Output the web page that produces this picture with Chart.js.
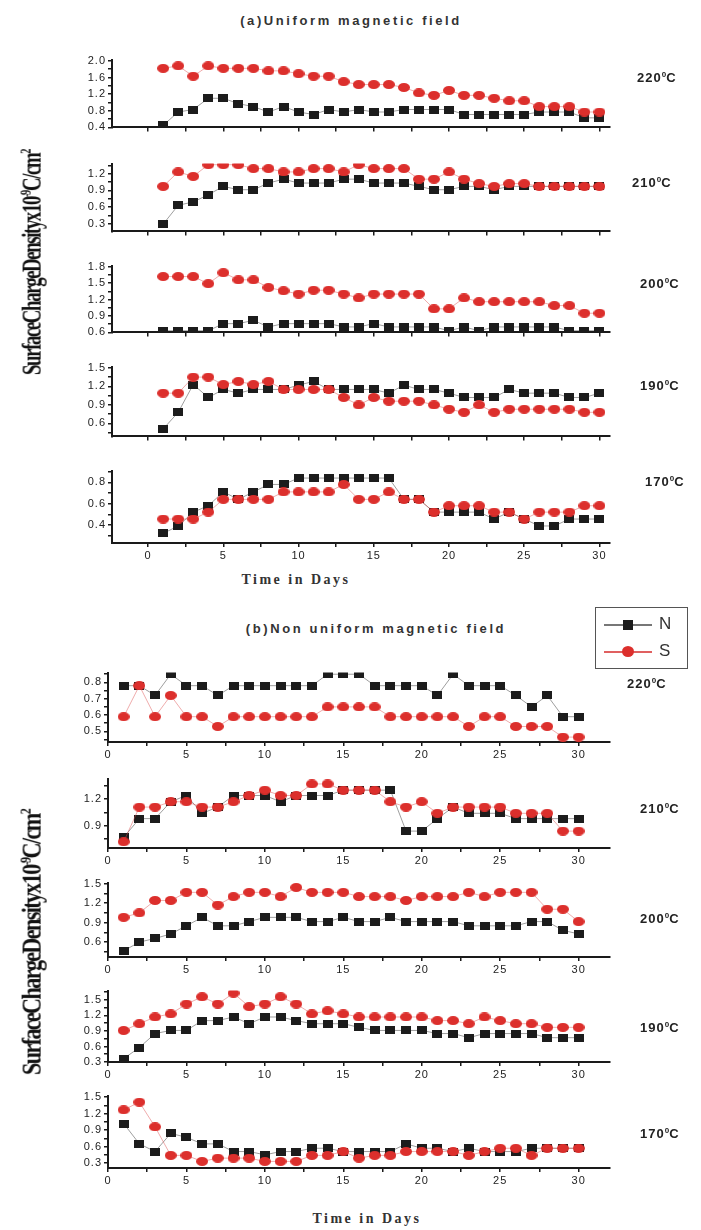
<!DOCTYPE html>
<html><head><meta charset="utf-8">
<script src="https://cdn.jsdelivr.net/npm/chart.js@4/dist/chart.umd.min.js"></script>
<style>
html,body{margin:0;padding:0;background:#fff;}
body{width:701px;height:1230px;position:relative;overflow:hidden;font-family:"Liberation Sans",Arial,sans-serif;color:#222;}
canvas.p{position:absolute;left:0;}
.t{position:absolute;white-space:nowrap;}
.title{font-weight:bold;font-size:13px;letter-spacing:2.6px;color:#333;transform:translate(-50%,-50%);}
.temp{font-weight:bold;font-size:13px;letter-spacing:1px;color:#222;transform:translateY(-50%);}
.temp sup{font-size:8px;vertical-align:5px;letter-spacing:0;}
.xt{font-family:"Liberation Serif",serif;font-weight:bold;font-size:14px;letter-spacing:2.5px;color:#333;transform:translate(-50%,-50%);}
.yt{font-family:"Liberation Serif",serif;font-weight:bold;font-size:27px;color:#111;letter-spacing:-2px;word-spacing:-5px;}
.yt sup{font-size:15px;}
#legend{position:absolute;left:595px;top:607px;width:91px;height:60px;border:1.5px solid #555;}
#legend .row{position:absolute;left:8px;height:14px;}
</style></head>
<body>
<script>
const days = [1,2,3,4,5,6,7,8,9,10,11,12,13,14,15,16,17,18,19,20,21,22,23,24,25,26,27,28,29,30];

// (a) Uniform magnetic field
const a220N = [0.45,0.77,0.83,1.10,1.10,0.97,0.90,0.77,0.90,0.77,0.71,0.83,0.77,0.83,0.77,0.77,0.83,0.83,0.83,0.83,0.71,0.71,0.71,0.71,0.71,0.77,0.77,0.77,0.63,0.63];
const a220S = [1.82,1.88,1.63,1.88,1.82,1.82,1.82,1.76,1.76,1.69,1.63,1.63,1.50,1.43,1.43,1.43,1.36,1.23,1.17,1.29,1.17,1.17,1.10,1.04,1.04,0.90,0.90,0.90,0.77,0.77];
const a210N = [0.29,0.63,0.69,0.82,0.97,0.91,0.91,1.03,1.10,1.03,1.03,1.03,1.10,1.10,1.03,1.03,1.03,0.97,0.91,0.91,0.97,0.97,0.91,0.97,0.97,0.97,0.97,0.97,0.97,0.97];
const a210S = [0.97,1.23,1.15,1.36,1.36,1.36,1.29,1.29,1.23,1.23,1.29,1.29,1.23,1.36,1.29,1.29,1.29,1.10,1.10,1.23,1.10,1.02,0.97,1.02,1.02,0.97,0.97,0.97,0.97,0.97];
const a200N = [0.63,0.63,0.63,0.63,0.76,0.76,0.82,0.70,0.76,0.76,0.76,0.76,0.70,0.70,0.76,0.70,0.70,0.70,0.70,0.63,0.70,0.63,0.70,0.70,0.70,0.70,0.70,0.63,0.63,0.63];
const a200S = [1.62,1.62,1.62,1.49,1.69,1.56,1.56,1.42,1.36,1.30,1.37,1.37,1.30,1.23,1.30,1.30,1.30,1.30,1.03,1.03,1.23,1.16,1.16,1.16,1.16,1.16,1.09,1.09,0.95,0.95];
const a190N = [0.51,0.78,1.23,1.02,1.15,1.09,1.15,1.15,1.15,1.22,1.28,1.15,1.15,1.15,1.15,1.09,1.22,1.15,1.15,1.09,1.02,1.02,1.02,1.15,1.09,1.09,1.09,1.02,1.02,1.09];
const a190S = [1.09,1.09,1.35,1.35,1.23,1.28,1.23,1.28,1.15,1.15,1.15,1.15,1.02,0.90,1.02,0.96,0.96,0.96,0.90,0.83,0.78,0.90,0.78,0.83,0.83,0.83,0.83,0.83,0.78,0.78];
const a170N = [0.32,0.39,0.52,0.58,0.71,0.64,0.71,0.78,0.78,0.84,0.84,0.84,0.84,0.84,0.84,0.84,0.64,0.64,0.52,0.52,0.52,0.52,0.455,0.52,0.455,0.39,0.39,0.455,0.455,0.455];
const a170S = [0.455,0.455,0.455,0.52,0.64,0.64,0.64,0.64,0.71,0.71,0.71,0.71,0.78,0.64,0.64,0.71,0.64,0.64,0.52,0.58,0.58,0.58,0.52,0.52,0.455,0.52,0.52,0.52,0.58,0.58];

// (b) Non uniform magnetic field
const b220N = [0.78,0.78,0.72,0.85,0.78,0.78,0.72,0.78,0.78,0.78,0.78,0.78,0.78,0.85,0.85,0.85,0.78,0.78,0.78,0.78,0.72,0.85,0.78,0.78,0.78,0.72,0.65,0.72,0.59,0.59];
const b220S = [0.59,0.78,0.59,0.72,0.59,0.59,0.53,0.59,0.59,0.59,0.59,0.59,0.59,0.65,0.65,0.65,0.65,0.59,0.59,0.59,0.59,0.59,0.53,0.59,0.59,0.53,0.53,0.53,0.465,0.465];
const b210N = [0.77,0.98,0.98,1.17,1.24,1.04,1.11,1.24,1.24,1.24,1.17,1.24,1.24,1.24,1.30,1.30,1.30,1.30,0.84,0.84,0.98,1.11,1.04,1.04,1.04,0.98,0.98,0.98,0.98,0.98];
const b210S = [0.72,1.11,1.11,1.17,1.17,1.11,1.11,1.17,1.24,1.30,1.24,1.24,1.37,1.37,1.30,1.30,1.30,1.17,1.11,1.17,1.04,1.11,1.11,1.11,1.11,1.04,1.04,1.04,0.84,0.84];
const b200N = [0.465,0.60,0.655,0.725,0.85,0.98,0.85,0.85,0.915,0.98,0.98,0.98,0.915,0.915,0.98,0.915,0.915,0.98,0.915,0.915,0.915,0.915,0.85,0.85,0.85,0.85,0.915,0.915,0.78,0.725];
const b200S = [0.98,1.05,1.24,1.24,1.365,1.365,1.17,1.30,1.365,1.365,1.30,1.44,1.365,1.365,1.365,1.30,1.30,1.30,1.24,1.30,1.30,1.30,1.365,1.30,1.365,1.365,1.365,1.105,1.105,0.915];
const b190N = [0.365,0.58,0.85,0.91,0.91,1.10,1.10,1.17,1.04,1.17,1.17,1.10,1.04,1.04,1.04,0.97,0.91,0.91,0.91,0.91,0.85,0.85,0.77,0.85,0.85,0.85,0.85,0.77,0.77,0.77];
const b190S = [0.91,1.04,1.17,1.23,1.42,1.56,1.42,1.63,1.37,1.42,1.56,1.42,1.23,1.29,1.23,1.17,1.17,1.17,1.17,1.17,1.10,1.10,1.04,1.17,1.10,1.04,1.04,0.97,0.97,0.97];
const b170N = [1.02,0.65,0.51,0.84,0.77,0.65,0.65,0.51,0.51,0.45,0.51,0.51,0.57,0.57,0.51,0.51,0.51,0.51,0.65,0.57,0.57,0.51,0.57,0.51,0.51,0.51,0.57,0.57,0.57,0.57];
const b170S = [1.27,1.41,0.96,0.44,0.44,0.33,0.39,0.39,0.39,0.33,0.33,0.33,0.44,0.44,0.51,0.39,0.44,0.44,0.51,0.51,0.51,0.51,0.44,0.51,0.57,0.57,0.44,0.57,0.57,0.57];

// Tick values (all tick marks) and labelled ticks
const xTicks = [0,2.5,5,7.5,10,12.5,15,17.5,20,22.5,25,27.5,30];
const xLabels = [0,5,10,15,20,25,30];
const a220Ticks = [0.4,0.6,0.8,1.0,1.2,1.4,1.6,1.8,2.0], a220Lab = [0.4,0.8,1.2,1.6,2.0];
const a210Ticks = [0.3,0.45,0.6,0.75,0.9,1.05,1.2,1.35], a210Lab = [0.3,0.6,0.9,1.2];
const a200Ticks = [0.6,0.75,0.9,1.05,1.2,1.35,1.5,1.65,1.8], a200Lab = [0.6,0.9,1.2,1.5,1.8];
const a190Ticks = [0.45,0.6,0.75,0.9,1.05,1.2,1.35,1.5], a190Lab = [0.6,0.9,1.2,1.5];
const a170Ticks = [0.3,0.4,0.5,0.6,0.7,0.8,0.9], a170Lab = [0.4,0.6,0.8];
const b220Ticks = [0.45,0.5,0.55,0.6,0.65,0.7,0.75,0.8,0.85], b220Lab = [0.5,0.6,0.7,0.8];
const b210Ticks = [0.75,0.9,1.05,1.2,1.35], b210Lab = [0.9,1.2];
const b200Ticks = [0.45,0.6,0.75,0.9,1.05,1.2,1.35,1.5], b200Lab = [0.6,0.9,1.2,1.5];
const b190Ticks = [0.3,0.45,0.6,0.75,0.9,1.05,1.2,1.35,1.5,1.65], b190Lab = [0.3,0.6,0.9,1.2,1.5];
const b170Ticks = [0.3,0.45,0.6,0.75,0.9,1.05,1.2,1.35,1.5], b170Lab = [0.3,0.6,0.9,1.2,1.5];

// markers
function mk(w,h,draw){const c=document.createElement('canvas');c.width=w;c.height=h;draw(c.getContext('2d'),w,h);return c;}
const sqMarker = mk(10,8,(g,w,h)=>{g.fillStyle='#1c1c1c';g.fillRect(0,0,w,h);});
const ciMarker = mk(12,9,(g,w,h)=>{g.fillStyle='#dc2f2c';g.beginPath();g.ellipse(w/2,h/2,w/2,h/2,0,0,Math.PI*2);g.fill();});

const near=(a,b)=>Math.abs(a-b)<1e-6;
const spacing={id:'spacing',beforeLayout(c){c.ctx.letterSpacing='1px';},beforeDraw(c){c.ctx.letterSpacing='1px';}};

function panel(o){
  const xh = o.xLab ? 24 : 6, padTop = 8;
  const cv = document.createElement('canvas');
  cv.className='p';
  const W=640, H=(o.bottom-o.top)+padTop+xh;
  cv.width=W; cv.height=H;
  cv.style.top=(o.top-padTop)+'px';
  document.body.appendChild(cv);
  const pts = arr => days.map((d,i)=>({x:d,y:arr[i]}));
  new Chart(cv.getContext('2d'),{
    type:'scatter',
    data:{datasets:[
      {label:'S',data:pts(o.S),showLine:true,borderColor:'rgba(220,70,70,0.45)',borderWidth:1,pointStyle:ciMarker,pointRadius:5,order:0},
      {label:'N',data:pts(o.N),showLine:true,borderColor:'rgba(40,40,40,0.45)',borderWidth:1,pointStyle:sqMarker,pointRadius:5,order:1}
    ]},
    options:{
      responsive:false,animation:false,devicePixelRatio:1,
      layout:{padding:{left:o.axisX-44,right:W-610,top:padTop,bottom:0}},
      plugins:{legend:{display:false},tooltip:{enabled:false}},
      scales:{
        x:{type:'linear',min:o.xmin,max:o.xmax,
          afterBuildTicks:s=>{s.ticks=xTicks.filter(v=>v>=o.xmin&&v<=o.xmax).map(v=>({value:v}));},
          afterFit:s=>{s.height=xh;},
          border:{display:true,color:'#1a1a1a',width:2},
          grid:{drawOnChartArea:false,drawTicks:true,tickLength:4,color:'#1a1a1a',lineWidth:1.5},
          ticks:{display:!!o.xLab,autoSkip:false,maxRotation:0,padding:2,color:'#222',font:{family:'Liberation Sans',size:11},
            callback:v=>xLabels.some(l=>near(l,v))?String(v):''}
        },
        y:{type:'linear',min:o.ymin,max:o.ymax,
          afterBuildTicks:s=>{s.ticks=o.ticks.map(v=>({value:v}));},
          afterFit:s=>{s.width=44;},
          border:{display:true,color:'#1a1a1a',width:2},
          grid:{drawOnChartArea:false,drawTicks:true,tickLength:4,color:'#1a1a1a',lineWidth:1.5},
          ticks:{autoSkip:false,padding:2,color:'#222',font:{family:'Liberation Sans',size:11},
            callback:v=>o.lab.some(l=>near(l,v))?v.toFixed(1):''}
        }
      }
    },
    plugins:[spacing]
  });
}

const A={axisX:112,xmin:-2.4,xmax:30.7};
const B={axisX:108,xmin:0,xmax:32,xLab:true};
panel({...A,top:59,bottom:130,ymin:0.4,ymax:2.03,ticks:a220Ticks,lab:a220Lab,N:a220N,S:a220S});
panel({...A,top:163,bottom:234,ymin:0.16,ymax:1.38,ticks:a210Ticks,lab:a210Lab,N:a210N,S:a210S});
panel({...A,top:265,bottom:335,ymin:0.6,ymax:1.82,ticks:a200Ticks,lab:a200Lab,N:a200N,S:a200S});
panel({...A,top:366,bottom:439,ymin:0.39,ymax:1.52,ticks:a190Ticks,lab:a190Lab,N:a190N,S:a190S});
panel({...A,top:470,bottom:543,ymin:0.23,ymax:0.91,ticks:a170Ticks,lab:a170Lab,N:a170N,S:a170S,xLab:true});
panel({...B,top:672,bottom:742,ymin:0.435,ymax:0.86,ticks:b220Ticks,lab:b220Lab,N:b220N,S:b220S});
panel({...B,top:778,bottom:848,ymin:0.65,ymax:1.43,ticks:b210Ticks,lab:b210Lab,N:b210N,S:b210S});
panel({...B,top:882,bottom:957,ymin:0.37,ymax:1.515,ticks:b200Ticks,lab:b200Lab,N:b200N,S:b200S});
panel({...B,top:990,bottom:1062,ymin:0.3,ymax:1.68,ticks:b190Ticks,lab:b190Lab,N:b190N,S:b190S});
panel({...B,top:1095,bottom:1168,ymin:0.21,ymax:1.53,ticks:b170Ticks,lab:b170Lab,N:b170N,S:b170S});

// texts
function txt(cls,html,x,y,extra){const d=document.createElement('div');d.className='t '+cls;d.innerHTML=html;d.style.left=x+'px';d.style.top=y+'px';if(extra)Object.assign(d.style,extra);document.body.appendChild(d);return d;}
txt('title','(a)Uniform magnetic field',351,20);
txt('title','(b)Non uniform magnetic field',376,628);
txt('xt','Time in Days',296,580);
txt('xt','Time in Days',367,1219);
const temps=[['220',637,77],['210',632,182],['200',640,283],['190',640,385],['170',645,481],
             ['220',627,683],['210',640,808],['200',640,918],['190',640,1027],['170',640,1133]];
temps.forEach(t=>txt('temp',t[0]+'<sup>0</sup>C',t[1],t[2]));
// rotated y titles
function ytitle(x,y,len){
  const d=txt('yt','Surface Charge Density x10<sup>-9</sup>C/cm<sup>2</sup>',0,0);
  const w=d.offsetWidth,h=d.offsetHeight;
  d.style.left=(x-w/2)+'px';d.style.top=(y-h/2)+'px';
  d.style.transform='rotate(-90deg) scaleX('+(len/w)+')';
}
ytitle(32,262,225);
ytitle(32,942,265);
</script>
<div id="legend">
  <div class="row" style="top:10px;width:80px;">
    <span style="position:absolute;left:0;top:6px;width:48px;height:1.5px;background:#777;"></span>
    <span style="position:absolute;left:19px;top:2px;width:10px;height:10px;background:#1c1c1c;"></span>
    <span style="position:absolute;left:55px;top:-4px;font-size:17px;color:#333;">N</span>
  </div>
  <div class="row" style="top:37px;width:80px;">
    <span style="position:absolute;left:0;top:6px;width:48px;height:1.5px;background:#e06060;"></span>
    <span style="position:absolute;left:18px;top:1px;width:12px;height:11px;border-radius:50%;background:#dc2f2c;"></span>
    <span style="position:absolute;left:55px;top:-4px;font-size:17px;color:#333;">S</span>
  </div>
</div>
</body></html>
